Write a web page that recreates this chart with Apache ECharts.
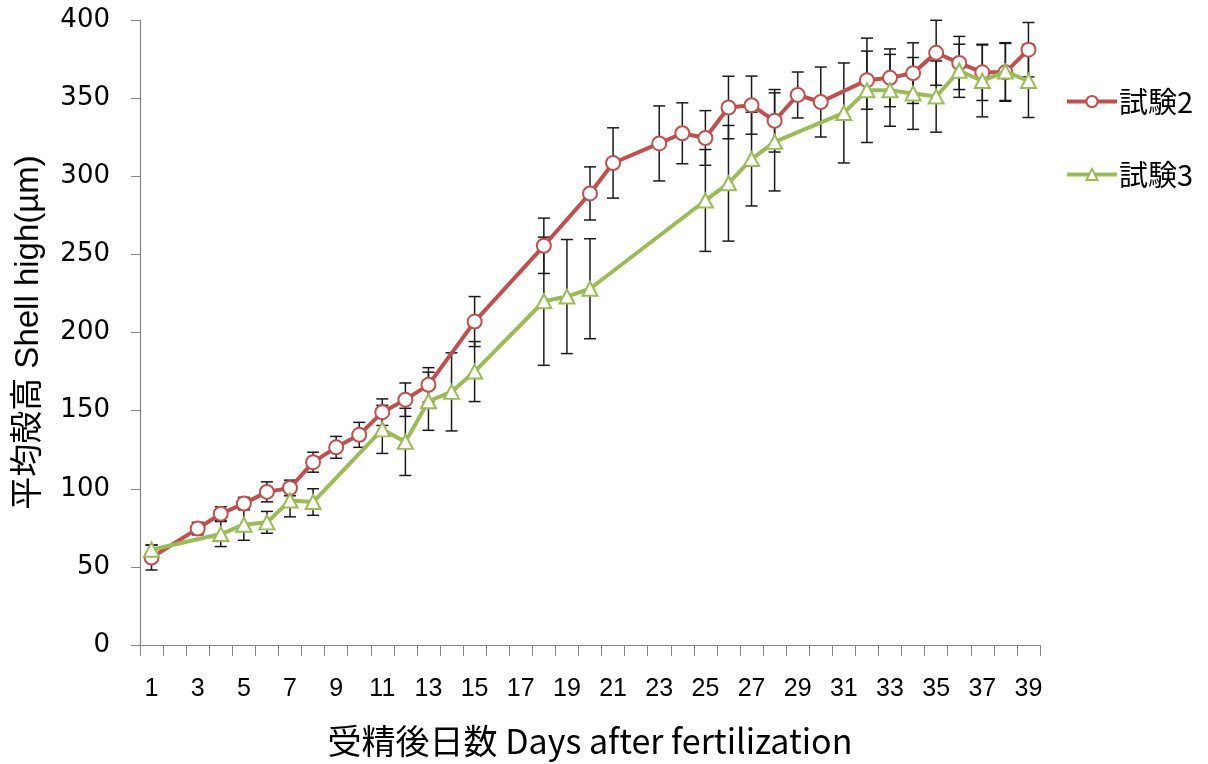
<!DOCTYPE html>
<html>
<head>
<meta charset="utf-8">
<script src="https://cdn.jsdelivr.net/npm/echarts@6/dist/echarts.min.js"></script>
<style>
html,body{margin:0;padding:0;background:#fff;}
#chart{width:1208px;height:764px;}
</style>
</head>
<body>
<div id="chart"></div>
<script>
// ---- data ----
const categories = Array.from({length: 39}, (_, i) => String(i + 1));
const seriesNames = ['試験2', '試験3'];

const days2 = [1,3,4,5,6,7,8,9,10,11,12,13,15,18,20,21,23,24,25,26,27,28,29,30,32,33,34,35,36,37,38,39];
const vals2 = [56,74.5,84,90.5,98,100.5,117,126.5,134.5,149,157,166.5,207,255.5,289,308.5,321,327.5,324.5,344,345.5,335.5,352,347.5,361.5,363,366,379,372.5,366.5,366.5,381];
const err2  = [8,4,4.5,4,6.4,5,6.4,7,8,8.5,10.7,11,16,17.7,17,22.5,24,19.5,17.5,20,18.6,20,14.7,22.4,18.6,18.5,19.4,20.8,17,18,18.5,17.4];

const days3 = [1,4,5,6,7,8,11,12,13,14,15,18,19,20,25,26,27,28,31,32,33,34,35,36,37,38,39];
const vals3 = [61,71,77,78.5,92.5,91.5,138,130,156,162,175,220,223,228,284.5,295.5,311,322,340.5,355,355,353,351,367.5,361,367,361];
const err3  = [3,8,10,7,10.5,8.5,15.4,21.5,18.6,25,19.2,41,36.5,32,32.6,37,30,31.4,32,33.4,23,23,22.8,17,23,18.5,23.4];

const yTicks = {min: 0, max: 400, interval: 50};

// ---- build ----
const RED = '#C0504D', GREEN = '#9BBB59';
function lineData(days, vals){ return days.map((d,i)=>[String(d), vals[i]]); }
function errData(days, vals, errs){ return days.map((d,i)=>[String(d), vals[i]-errs[i], vals[i]+errs[i]]); }

function renderErr(params, api){
  const x = api.value(0);
  const lo = api.coord([x, api.value(1)]);
  const hi = api.coord([x, api.value(2)]);
  const w = 6;
  const st = {stroke: '#1a1a1a', lineWidth: 1.5};
  return {type: 'group', children: [
    {type:'line', shape:{x1:lo[0], y1:lo[1], x2:hi[0], y2:hi[1]}, style: st},
    {type:'line', shape:{x1:lo[0]-w, y1:lo[1], x2:lo[0]+w, y2:lo[1]}, style: st},
    {type:'line', shape:{x1:hi[0]-w, y1:hi[1], x2:hi[0]+w, y2:hi[1]}, style: st}
  ]};
}

const chart = echarts.init(document.getElementById('chart'));
chart.setOption({
  animation: false,
  backgroundColor: '#fff',
  grid: {left: 140, right: 168, top: 20, bottom: 119, containLabel: false},
  legend: {
    orient: 'vertical', left: 1060, top: 82, itemGap: 44,
    itemWidth: 50, itemHeight: 14,
    lineStyle: {width: 4},
    textStyle: {fontSize: 29, lineHeight: 29, color: '#000', fontFamily: '"Noto Sans CJK JP", sans-serif', padding: [0,0,0,-3]},
    data: seriesNames
  },
  xAxis: {
    type: 'category', data: categories, boundaryGap: true,
    axisLine: {lineStyle: {color: '#868686', width: 1.2}},
    axisTick: {show: true, interval: 0, length: 11, lineStyle: {color: '#868686'}},
    axisLabel: {interval: 1, margin: 32, fontSize: 25, color: '#000', fontFamily: '"Liberation Sans Narrow", "Liberation Sans", sans-serif'},
    name: '受精後日数 Days after fertilization', nameLocation: 'middle', nameGap: 79,
    nameTextStyle: {fontSize: 34, color: '#000', fontFamily: '"Liberation Sans Narrow", "Noto Sans CJK JP", sans-serif'},
    splitLine: {show: false}
  },
  yAxis: {
    type: 'value', min: yTicks.min, max: yTicks.max, interval: yTicks.interval,
    axisLine: {show: true, lineStyle: {color: '#868686', width: 1.2}},
    axisTick: {show: true, length: 9, lineStyle: {color: '#868686'}},
    axisLabel: {margin: 30, fontSize: 26, color: '#000', fontFamily: '"DejaVu Sans", sans-serif'},
    splitLine: {show: false},
    name: '平均殻高 Shell high(µm)', nameLocation: 'middle', nameGap: 95, nameRotate: 90,
    nameTextStyle: {fontSize: 33, color: '#000', fontFamily: '"Liberation Sans", "Noto Sans CJK JP", sans-serif'}
  },
  series: [
    {type: 'custom', name: 'err2', renderItem: renderErr, data: errData(days2, vals2, err2), encode: {x: 0, y: [1, 2]}, z: 1, silent: true},
    {type: 'custom', name: 'err3', renderItem: renderErr, data: errData(days3, vals3, err3), encode: {x: 0, y: [1, 2]}, z: 1, silent: true},
    {type: 'line', name: seriesNames[0], data: lineData(days2, vals2), z: 3,
     symbol: 'circle', symbolSize: 14,
     lineStyle: {color: RED, width: 4},
     itemStyle: {color: '#fff', borderColor: RED, borderWidth: 2}},
    {type: 'line', name: seriesNames[1], data: lineData(days3, vals3), z: 4,
     symbol: 'triangle', symbolSize: [15, 14],
     lineStyle: {color: GREEN, width: 4},
     itemStyle: {color: '#fff', borderColor: GREEN, borderWidth: 2}}
  ]
});
</script>
</body>
</html>
